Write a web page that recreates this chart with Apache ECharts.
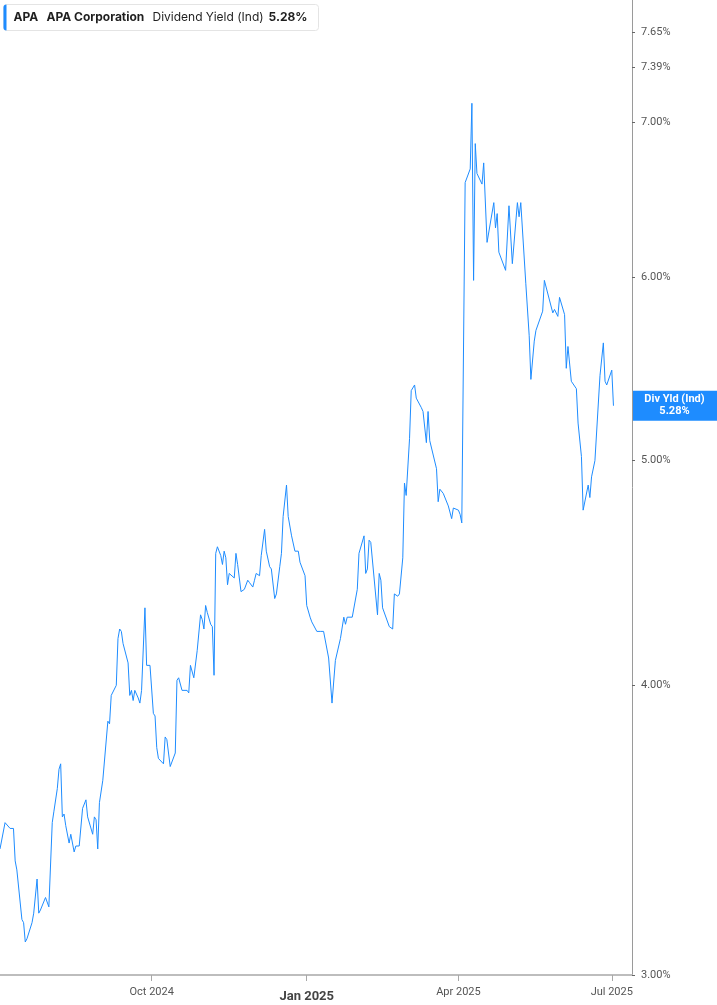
<!DOCTYPE html>
<html>
<head>
<meta charset="utf-8">
<title>APA Dividend Yield</title>
<script src="https://cdn.jsdelivr.net/npm/echarts@6/dist/echarts.min.js"></script>
<style>
  html, body { margin: 0; padding: 0; background: #fff; }
  #chart { width: 717px; height: 1005px; }
</style>
</head>
<body>
<div id="chart"></div>
<script>
/* APA dividend yield (ind), one year, log scale on the right. */

const dates = [
  "2024-07-03", "2024-07-04", "2024-07-06", "2024-07-09", "2024-07-10", "2024-07-11", "2024-07-12", "2024-07-13",
  "2024-07-16", "2024-07-17", "2024-07-18", "2024-07-19", "2024-07-22", "2024-07-23", "2024-07-25", "2024-07-26",
  "2024-07-27", "2024-07-30", "2024-08-01", "2024-08-02", "2024-08-03", "2024-08-04", "2024-08-06", "2024-08-07",
  "2024-08-08", "2024-08-09", "2024-08-10", "2024-08-11", "2024-08-13", "2024-08-14", "2024-08-15", "2024-08-16",
  "2024-08-17", "2024-08-19", "2024-08-21", "2024-08-23", "2024-08-24", "2024-08-27", "2024-08-28", "2024-08-29",
  "2024-08-30", "2024-08-31", "2024-09-02", "2024-09-05", "2024-09-06", "2024-09-07", "2024-09-10", "2024-09-11",
  "2024-09-12", "2024-09-13", "2024-09-14", "2024-09-17", "2024-09-18", "2024-09-19", "2024-09-20", "2024-09-21",
  "2024-09-23", "2024-09-24", "2024-09-25", "2024-09-27", "2024-09-28", "2024-09-30", "2024-10-01", "2024-10-02",
  "2024-10-03", "2024-10-04", "2024-10-05", "2024-10-08", "2024-10-09", "2024-10-10", "2024-10-12", "2024-10-15",
  "2024-10-16", "2024-10-17", "2024-10-19", "2024-10-22", "2024-10-23", "2024-10-24", "2024-10-26", "2024-10-28",
  "2024-10-30", "2024-10-31", "2024-11-01", "2024-11-02", "2024-11-03", "2024-11-05", "2024-11-06", "2024-11-07",
  "2024-11-08", "2024-11-09", "2024-11-11", "2024-11-12", "2024-11-13", "2024-11-14", "2024-11-15", "2024-11-16",
  "2024-11-19", "2024-11-20", "2024-11-21", "2024-11-23", "2024-11-25", "2024-11-27", "2024-11-28", "2024-11-30",
  "2024-12-01", "2024-12-02", "2024-12-04", "2024-12-05", "2024-12-07", "2024-12-08", "2024-12-10", "2024-12-11",
  "2024-12-13", "2024-12-14", "2024-12-16", "2024-12-17", "2024-12-18", "2024-12-20", "2024-12-21", "2024-12-23",
  "2024-12-25", "2024-12-27", "2024-12-28", "2024-12-31", "2025-01-01", "2025-01-03", "2025-01-04", "2025-01-07",
  "2025-01-09", "2025-01-11", "2025-01-14", "2025-01-16", "2025-01-18", "2025-01-21", "2025-01-23", "2025-01-24",
  "2025-01-25", "2025-01-28", "2025-01-31", "2025-02-01", "2025-02-04", "2025-02-05", "2025-02-06", "2025-02-07",
  "2025-02-08", "2025-02-12", "2025-02-13", "2025-02-14", "2025-02-15", "2025-02-19", "2025-02-21", "2025-02-22",
  "2025-02-24", "2025-02-25", "2025-02-27", "2025-02-28", "2025-03-01", "2025-03-03", "2025-03-04", "2025-03-06",
  "2025-03-07", "2025-03-10", "2025-03-11", "2025-03-13", "2025-03-14", "2025-03-15", "2025-03-19", "2025-03-20",
  "2025-03-21", "2025-03-23", "2025-03-26", "2025-03-28", "2025-03-29", "2025-04-01", "2025-04-02", "2025-04-03",
  "2025-04-05", "2025-04-08", "2025-04-09", "2025-04-10", "2025-04-11", "2025-04-12", "2025-04-15", "2025-04-16",
  "2025-04-18", "2025-04-22", "2025-04-23", "2025-04-24", "2025-04-25", "2025-04-29", "2025-05-01", "2025-05-03",
  "2025-05-06", "2025-05-07", "2025-05-08", "2025-05-11", "2025-05-13", "2025-05-14", "2025-05-16", "2025-05-17",
  "2025-05-21", "2025-05-22", "2025-05-23", "2025-05-27", "2025-05-28", "2025-05-30", "2025-05-31", "2025-06-03",
  "2025-06-04", "2025-06-05", "2025-06-07", "2025-06-10", "2025-06-11", "2025-06-13", "2025-06-14", "2025-06-17",
  "2025-06-18", "2025-06-19", "2025-06-21", "2025-06-24", "2025-06-26", "2025-06-27", "2025-06-28", "2025-07-01",
  "2025-07-02"
];

// dividend yield, percent
const yields = [
  3.40, 3.40, 3.49, 3.47, 3.47, 3.47, 3.36, 3.33,
  3.17, 3.16, 3.10, 3.11, 3.16, 3.19, 3.30, 3.19,
  3.20, 3.24, 3.21, 3.21, 3.49, 3.53, 3.61, 3.68,
  3.70, 3.51, 3.52, 3.48, 3.42, 3.45, 3.45, 3.39,
  3.41, 3.41, 3.54, 3.57, 3.51, 3.45, 3.51, 3.50,
  3.40, 3.56, 3.64, 3.86, 3.85, 3.96, 4.00, 4.19,
  4.23, 4.22, 4.17, 4.09, 3.96, 3.98, 3.94, 3.98,
  3.95, 3.93, 3.98, 4.32, 4.08, 4.08, 4.08, 3.89,
  3.88, 3.76, 3.72, 3.70, 3.80, 3.79, 3.69, 3.74,
  4.02, 4.03, 3.98, 3.98, 3.97, 4.08, 4.03, 4.14,
  4.29, 4.27, 4.23, 4.33, 4.30, 4.25, 4.24, 4.04,
  4.56, 4.59, 4.55, 4.51, 4.57, 4.54, 4.42, 4.47,
  4.45, 4.56, 4.51, 4.39, 4.40, 4.44, 4.43, 4.41,
  4.44, 4.47, 4.46, 4.55, 4.67, 4.57, 4.50, 4.49,
  4.36, 4.38, 4.50, 4.56, 4.73, 4.88, 4.73, 4.64,
  4.57, 4.57, 4.52, 4.46, 4.33, 4.28, 4.26, 4.22,
  4.22, 4.22, 4.11, 3.93, 4.10, 4.19, 4.28, 4.25,
  4.28, 4.28, 4.40, 4.56, 4.64, 4.47, 4.49, 4.62,
  4.61, 4.29, 4.47, 4.44, 4.32, 4.24, 4.23, 4.38,
  4.37, 4.38, 4.54, 4.89, 4.83, 5.11, 5.36, 5.39,
  5.32, 5.27, 5.25, 5.09, 5.25, 5.10, 4.96, 4.80,
  4.86, 4.84, 4.78, 4.72, 4.77, 4.76, 4.74, 4.70,
  6.59, 6.68, 7.13, 5.98, 6.85, 6.65, 6.58, 6.72,
  6.21, 6.46, 6.30, 6.39, 6.15, 6.04, 6.44, 6.08,
  6.46, 6.37, 6.46, 5.96, 5.66, 5.42, 5.63, 5.69,
  5.80, 5.98, 5.97, 5.79, 5.81, 5.77, 5.88, 5.78,
  5.48, 5.60, 5.41, 5.37, 5.19, 5.02, 4.76, 4.88,
  4.82, 4.92, 5.00, 5.44, 5.62, 5.41, 5.39, 5.47,
  5.28
];

const xTickDates = ["2024-10-01", "2025-01-01", "2025-04-01", "2025-07-01"];
const yTickValues = [3.00, 4.00, 5.00, 6.00, 7.00, 7.39, 7.65];
const xRange = ["2024-07-03", "2025-07-13"];
const yRange = [3.00, 7.90];

const ticker = "APA";
const companyName = "APA Corporation";
const metricName = "Dividend Yield (Ind)";
const shortMetric = "Div Yld (Ind)";

(function () {
  "use strict";

  const BLUE = "#1e8cff";
  const MONTHS = ["Jan", "Feb", "Mar", "Apr", "May", "Jun", "Jul", "Aug", "Sep", "Oct", "Nov", "Dec"];
  const chart = echarts.init(document.getElementById("chart"));

  const ts = (s) => Date.parse(s); // ISO date -> UTC ms
  const lastValue = yields[yields.length - 1];
  const lastText = lastValue.toFixed(2) + "%";
  // log scale: plot natural log of the yield on a value axis
  const seriesData = dates.map((d, i) => [ts(d), Math.log(yields[i])]);
  const xTicks = xTickDates.map(ts);
  const yTicks = yTickValues.map(Math.log);

  function headerGraphic() {
    const font = "12px Inter, 'Noto Sans', sans-serif";
    const txt = (x, text, weight) => ({
      type: "text",
      x: x,
      y: 13,
      style: { text: text, font: weight + " " + font, fill: "#1f1f1f", verticalAlign: "middle" },
    });
    return {
      type: "group",
      left: 3,
      top: 4,
      children: [
        { type: "rect", shape: { x: 0, y: 0, width: 315, height: 26, r: 3 }, style: { fill: "#fff", stroke: "#e4e4e4", lineWidth: 1 } },
        { type: "rect", shape: { x: 0, y: 0, width: 3, height: 26, r: [3, 0, 0, 3] }, style: { fill: BLUE } },
        txt(10, ticker, "bold"),
        txt(43, companyName, "bold"),
        txt(149, metricName, "normal"),
        txt(265, lastText, "bold"),
      ],
    };
  }

  chart.setOption({
    animation: false,
    grid: { left: 0, right: 85, top: 0, bottom: 30, containLabel: false, outerBoundsMode: "none" },
    xAxis: {
      type: "value",
      min: ts(xRange[0]),
      max: ts(xRange[1]),
      axisLine: { lineStyle: { color: "#bdbdbd", width: 2 } },
      axisTick: { show: true, customValues: xTicks, length: 6, lineStyle: { color: "#a8a8a8" } },
      splitLine: { show: false },
      axisLabel: {
        customValues: xTicks,
        margin: 12,
        formatter: function (v) {
          const d = new Date(v);
          const s = MONTHS[d.getUTCMonth()] + " " + d.getUTCFullYear();
          return d.getUTCMonth() === 0 ? "{b|" + s + "}" : "{a|" + s + "}";
        },
        rich: {
          a: { fontFamily: "Roboto, sans-serif", fontSize: 11, color: "#555" },
          b: { fontFamily: "Roboto, sans-serif", fontSize: 13, fontWeight: "bold", color: "#444", padding: [3, 0, 0, 0] },
        },
      },
    },
    yAxis: {
      type: "value",
      position: "right",
      min: Math.log(yRange[0]),
      max: Math.log(yRange[1]),
      axisLine: { show: true, lineStyle: { color: "#9a9a9a", width: 1 } },
      axisTick: { show: true, customValues: yTicks, length: 3, lineStyle: { color: "#666" } },
      splitLine: { show: false },
      axisLabel: {
        customValues: yTicks,
        margin: 9,
        color: "#555",
        fontFamily: "Roboto, sans-serif",
        fontSize: 11,
        formatter: (v) => Math.exp(v).toFixed(2) + "%",
      },
    },
    series: [{
      type: "line",
      data: seriesData,
      symbol: "none",
      lineStyle: { color: BLUE, width: 1 },
    }],
    graphic: [headerGraphic()],
  });

  // value badge on the axis, placed through the y scale
  const yPix = chart.convertToPixel({ yAxisIndex: 0 }, Math.log(lastValue));
  const axisX = chart.convertToPixel({ xAxisIndex: 0 }, ts(xRange[1]));
  const badgeW = 717 - axisX;
  chart.setOption({
    graphic: [headerGraphic(), {
      type: "group",
      x: axisX,
      y: yPix - 15,
      children: [
        { type: "rect", shape: { x: 0, y: 0, width: badgeW, height: 30 }, style: { fill: BLUE } },
        { type: "text", x: badgeW / 2, y: 9, style: { text: shortMetric, font: "bold 11px Roboto, sans-serif", fill: "#fff", align: "center", verticalAlign: "middle" } },
        { type: "text", x: badgeW / 2, y: 21, style: { text: lastText, font: "bold 11px Roboto, sans-serif", fill: "#fff", align: "center", verticalAlign: "middle" } },
      ],
    }],
  }, { replaceMerge: ["graphic"] });
})();
</script>
</body>
</html>
